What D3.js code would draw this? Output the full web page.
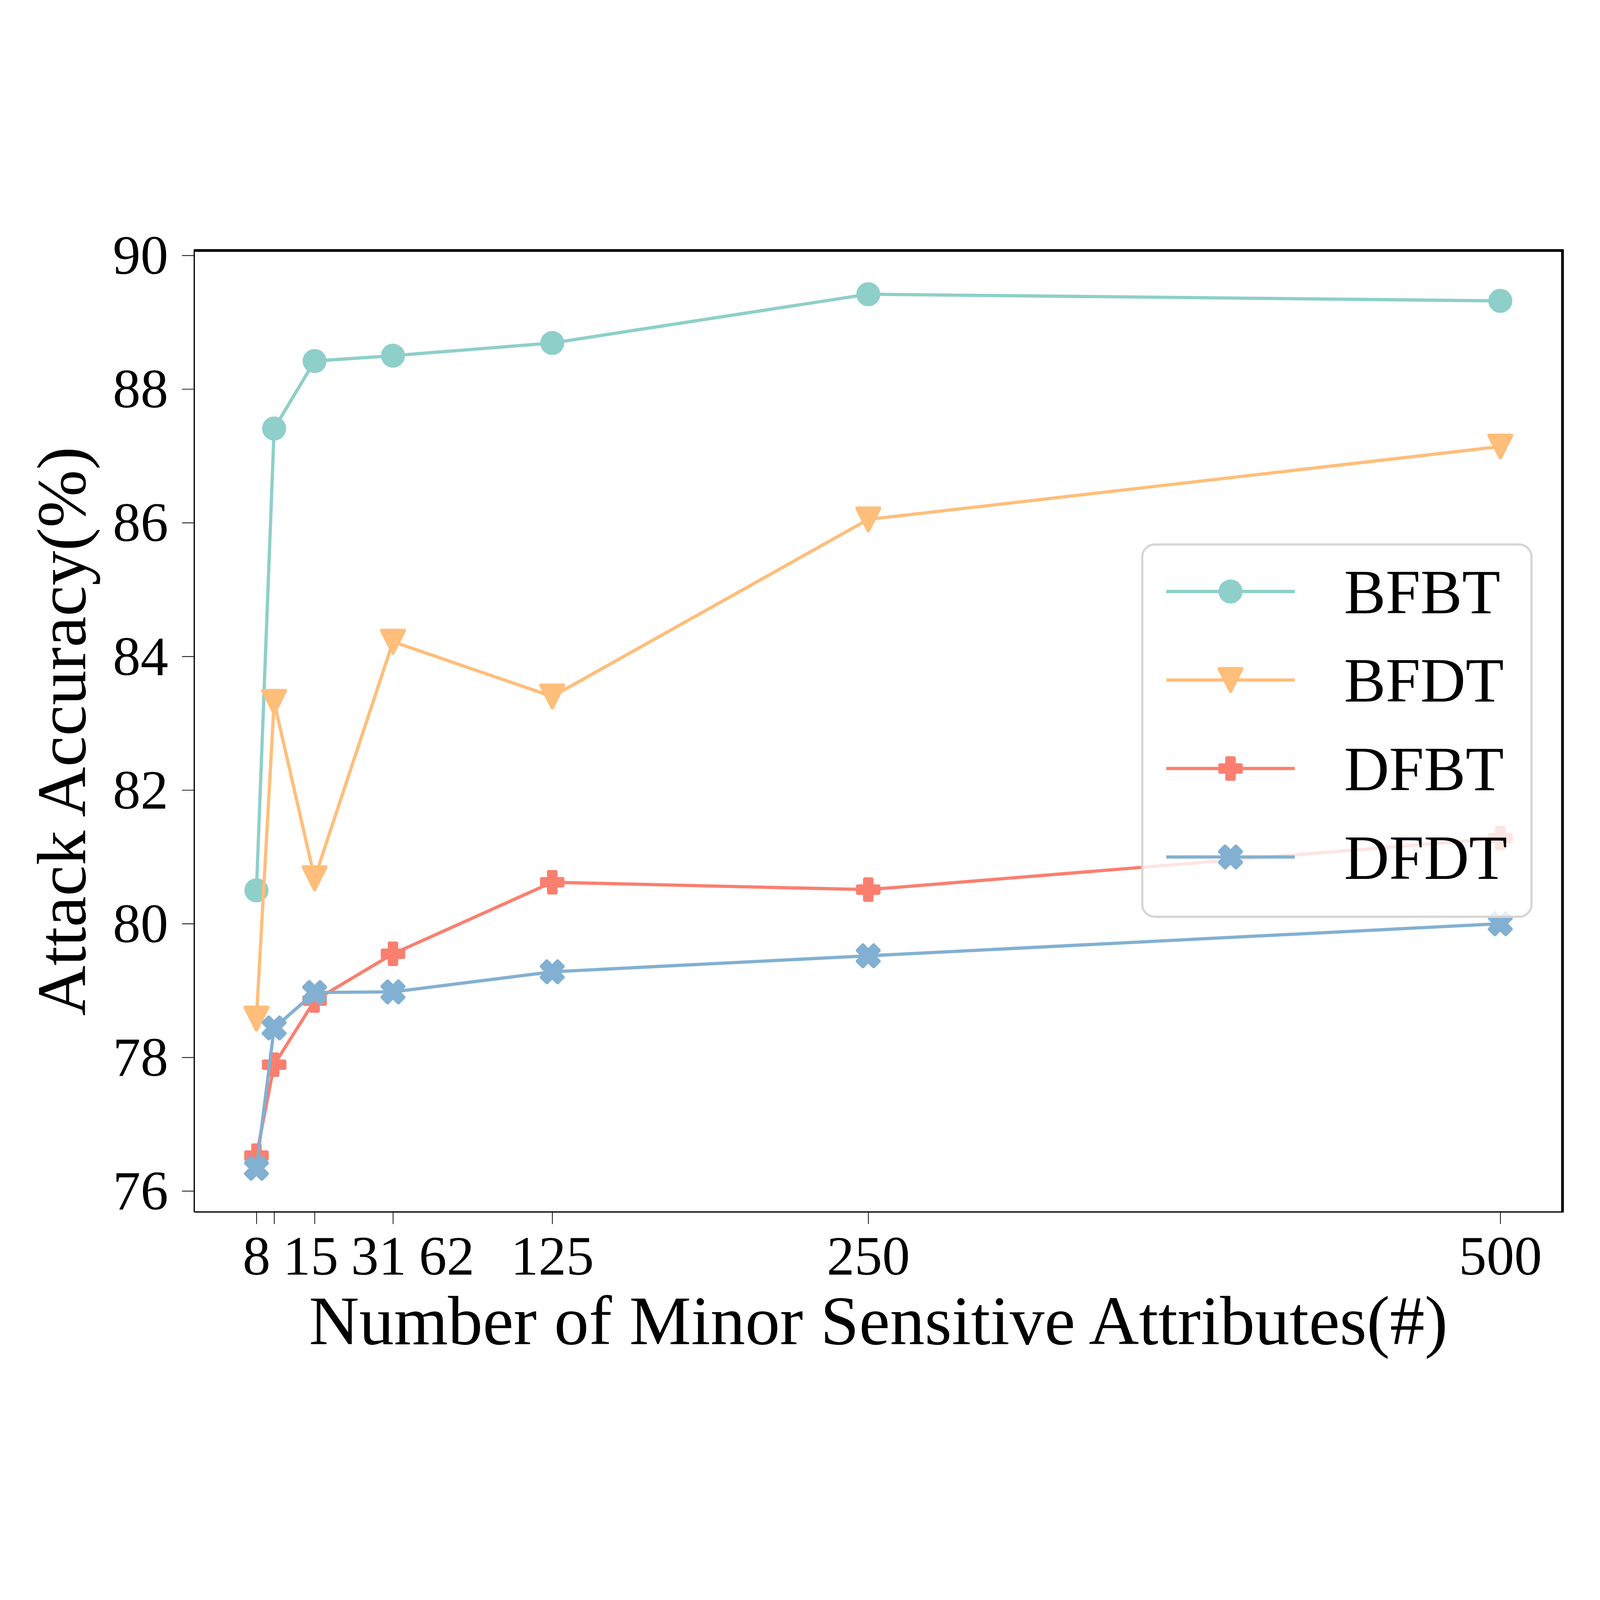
<!DOCTYPE html>
<html>
<head>
<meta charset="utf-8">
<script src="https://cdn.jsdelivr.net/npm/d3@7"></script>
<style>
  html, body { margin: 0; padding: 0; background: #ffffff; overflow: hidden; }
  svg { display: block; }
  text { font-family: "Liberation Serif", "Times New Roman", serif; fill: #000000; }
</style>
</head>
<body>
<div class="chart"></div>
<script>
'use strict';

// ---- data ----
var attrCounts = [8, 15, 31, 62, 125, 250, 500];
var tickLabels = ['8', '15', '31', '62', '125', '250', '500'];
var seriesNames = ['BFBT', 'BFDT', 'DFBT', 'DFDT'];
var bfbt = [80.50, 87.41, 88.42, 88.50, 88.69, 89.42, 89.32];
var bfdt = [78.58, 83.32, 80.68, 84.22, 83.40, 86.05, 87.14];
var dfbt = [76.53, 77.89, 78.85, 79.55, 80.62, 80.51, 81.28];
var dfdt = [76.34, 78.44, 78.97, 78.98, 79.28, 79.52, 80.00];
var yTicks = [76, 78, 80, 82, 84, 86, 88, 90];

var seriesValues = [bfbt, bfdt, dfbt, dfdt];
var colors = ['#8ECFC9', '#FFBE7A', '#FA7F6F', '#82B0D2'];
var markers = ['circle', 'tri', 'plus', 'x'];

// ---- layout ----
var width = 6400, height = 4800;
var margin = {top: 202, right: 150, bottom: 752, left: 777};
var plotW = width - margin.left - margin.right,
    plotH = height - margin.top - margin.bottom;

// the drawing is laid out in 6400x4800 units and scaled to the window
var svg = d3.select('.chart')
  .append('svg')
  .attr('viewBox', '0 0 ' + width + ' ' + height)
  .attr('preserveAspectRatio', 'xMidYMid meet')
  .style('width', '100vw')
  .style('height', '100vh');

svg.append('rect').attr('width', width).attr('height', height).attr('fill', '#ffffff');

var g = svg.append('g')
  .attr('transform', 'translate(' + margin.left + ',' + margin.top + ')');

// matplotlib-like 5% margins
var xr = d3.extent(attrCounts), xpad = (xr[1] - xr[0]) * 0.05;
var allY = d3.merge(seriesValues);
var yr = d3.extent(allY), ypad = (yr[1] - yr[0]) * 0.05;

var x = d3.scaleLinear().domain([xr[0] - xpad, xr[1] + xpad]).range([0, plotW]);
var y = d3.scaleLinear().domain([yr[0] - ypad, yr[1] + ypad]).range([plotH, 0]);

// marker shapes (size S = full extent before stroke)
function markerPath(type, S) {
  var pts;
  if (type === 'circle') {
    return d3.symbol().type(d3.symbolCircle).size(Math.PI * S * S / 4)();
  }
  if (type === 'tri') {
    pts = [[0, 1], [-1, -1], [1, -1]].map(function(p) { return [p[0] * S / 2, p[1] * S / 2]; });
  } else if (type === 'plus') {
    pts = [[-1, -3], [1, -3], [1, -1], [3, -1], [3, 1], [1, 1], [1, 3], [-1, 3], [-1, 1], [-3, 1], [-3, -1], [-1, -1]]
      .map(function(p) { return [p[0] * S / 6, p[1] * S / 6]; });
  } else {
    pts = [[-1, -2], [0, -1], [1, -2], [2, -1], [1, 0], [2, 1], [1, 2], [0, 1], [-1, 2], [-2, 1], [-1, 0], [-2, -1]]
      .map(function(p) { return [p[0] * S / 4, p[1] * S / 4]; });
  }
  return 'M' + pts.map(function(p) { return p.join(','); }).join('L') + 'Z';
}
var markerSize = {circle: 82, tri: 90, plus: 84, x: 86};
var markerEdge = 14;
var lineW = 13;

// ---- axes ----
var xAxis = g.append('g')
  .attr('transform', 'translate(0,' + plotH + ')')
  .call(d3.axisBottom(x).tickValues(attrCounts).tickFormat(function(d, i) { return tickLabels[i]; })
    .tickSize(48).tickPadding(0));
xAxis.select('.domain').remove();
xAxis.selectAll('.tick line').attr('stroke', '#000').attr('stroke-width', 3);
xAxis.selectAll('.tick text')
  .attr('y', 250).attr('dy', 0)
  .style('font-size', '222px');

// shift crowded tick labels to the right so they don't overlap
var prevRight = -Infinity, labelGap = 50;
xAxis.selectAll('.tick').each(function(d) {
  var t = d3.select(this).select('text');
  var w = t.node().getComputedTextLength();
  var cx = x(d);
  var left = Math.max(cx - w / 2, prevRight + labelGap);
  t.attr('x', left + w / 2 - cx);
  prevRight = left + w;
});

var yAxis = g.append('g')
  .call(d3.axisLeft(y).tickValues(yTicks).tickSize(49).tickPadding(55));
yAxis.select('.domain').remove();
yAxis.selectAll('.tick line').attr('stroke', '#000').attr('stroke-width', 3);
yAxis.selectAll('.tick text').style('font-size', '222px').attr('dy', '0.33em');

// spines
g.append('line').attr('x1', 0).attr('x2', plotW).attr('y1', plotH).attr('y2', plotH)
  .attr('stroke', '#000').attr('stroke-width', 5);
g.append('line').attr('x1', 0).attr('x2', 0).attr('y1', 0).attr('y2', plotH)
  .attr('stroke', '#000').attr('stroke-width', 5);
g.append('line').attr('x1', -2).attr('x2', plotW + 5).attr('y1', 0).attr('y2', 0)
  .attr('stroke', '#000').attr('stroke-width', 11);
g.append('line').attr('x1', plotW).attr('x2', plotW).attr('y1', 0).attr('y2', plotH + 2)
  .attr('stroke', '#000').attr('stroke-width', 11);

// ---- series ----
var line = d3.line()
  .x(function(d, i) { return x(attrCounts[i]); })
  .y(function(d) { return y(d); });

seriesValues.forEach(function(vals, s) {
  var sg = g.append('g');
  sg.append('path')
    .datum(vals)
    .attr('d', line)
    .attr('fill', 'none')
    .attr('stroke', colors[s])
    .attr('stroke-width', lineW)
    .attr('stroke-linejoin', 'round');
  sg.selectAll('path.mk')
    .data(vals).enter()
    .append('path')
      .attr('class', 'mk')
      .attr('d', markerPath(markers[s], markerSize[markers[s]]))
      .attr('transform', function(d, i) { return 'translate(' + x(attrCounts[i]) + ',' + y(d) + ')'; })
      .attr('fill', colors[s])
      .attr('stroke', colors[s])
      .attr('stroke-width', markerEdge)
      .attr('stroke-linejoin', 'round');
});

// ---- axis titles ----
svg.append('text')
  .attr('x', margin.left + plotW / 2)
  .attr('y', 4577)
  .attr('text-anchor', 'middle')
  .style('font-size', '278px')
  .text('Number of Minor Sensitive Attributes(#)');

svg.append('text')
  .attr('transform', 'translate(341,' + (margin.top + plotH / 2) + ') rotate(-90)')
  .attr('text-anchor', 'middle')
  .style('font-size', '278px')
  .text('Attack Accuracy(%)');

// ---- legend ----
var legend = svg.append('g').attr('transform', 'translate(4569,1378)');
legend.append('rect')
  .attr('width', 1557).attr('height', 1489)
  .attr('rx', 50).attr('ry', 50)
  .attr('fill', '#ffffff').attr('fill-opacity', 0.8)
  .attr('stroke', '#d6d6d6').attr('stroke-width', 9);

seriesNames.forEach(function(name, s) {
  var row = legend.append('g').attr('transform', 'translate(0,' + (188 + s * 354) + ')');
  row.append('line')
    .attr('x1', 96).attr('x2', 610)
    .attr('stroke', colors[s]).attr('stroke-width', lineW);
  row.append('path')
    .attr('d', markerPath(markers[s], markerSize[markers[s]]))
    .attr('transform', 'translate(353,0)')
    .attr('fill', colors[s]).attr('stroke', colors[s])
    .attr('stroke-width', markerEdge).attr('stroke-linejoin', 'round');
  row.append('text')
    .attr('x', 807).attr('y', 87)
    .style('font-size', '250px')
    .text(name);
});
</script>
</body>
</html>
